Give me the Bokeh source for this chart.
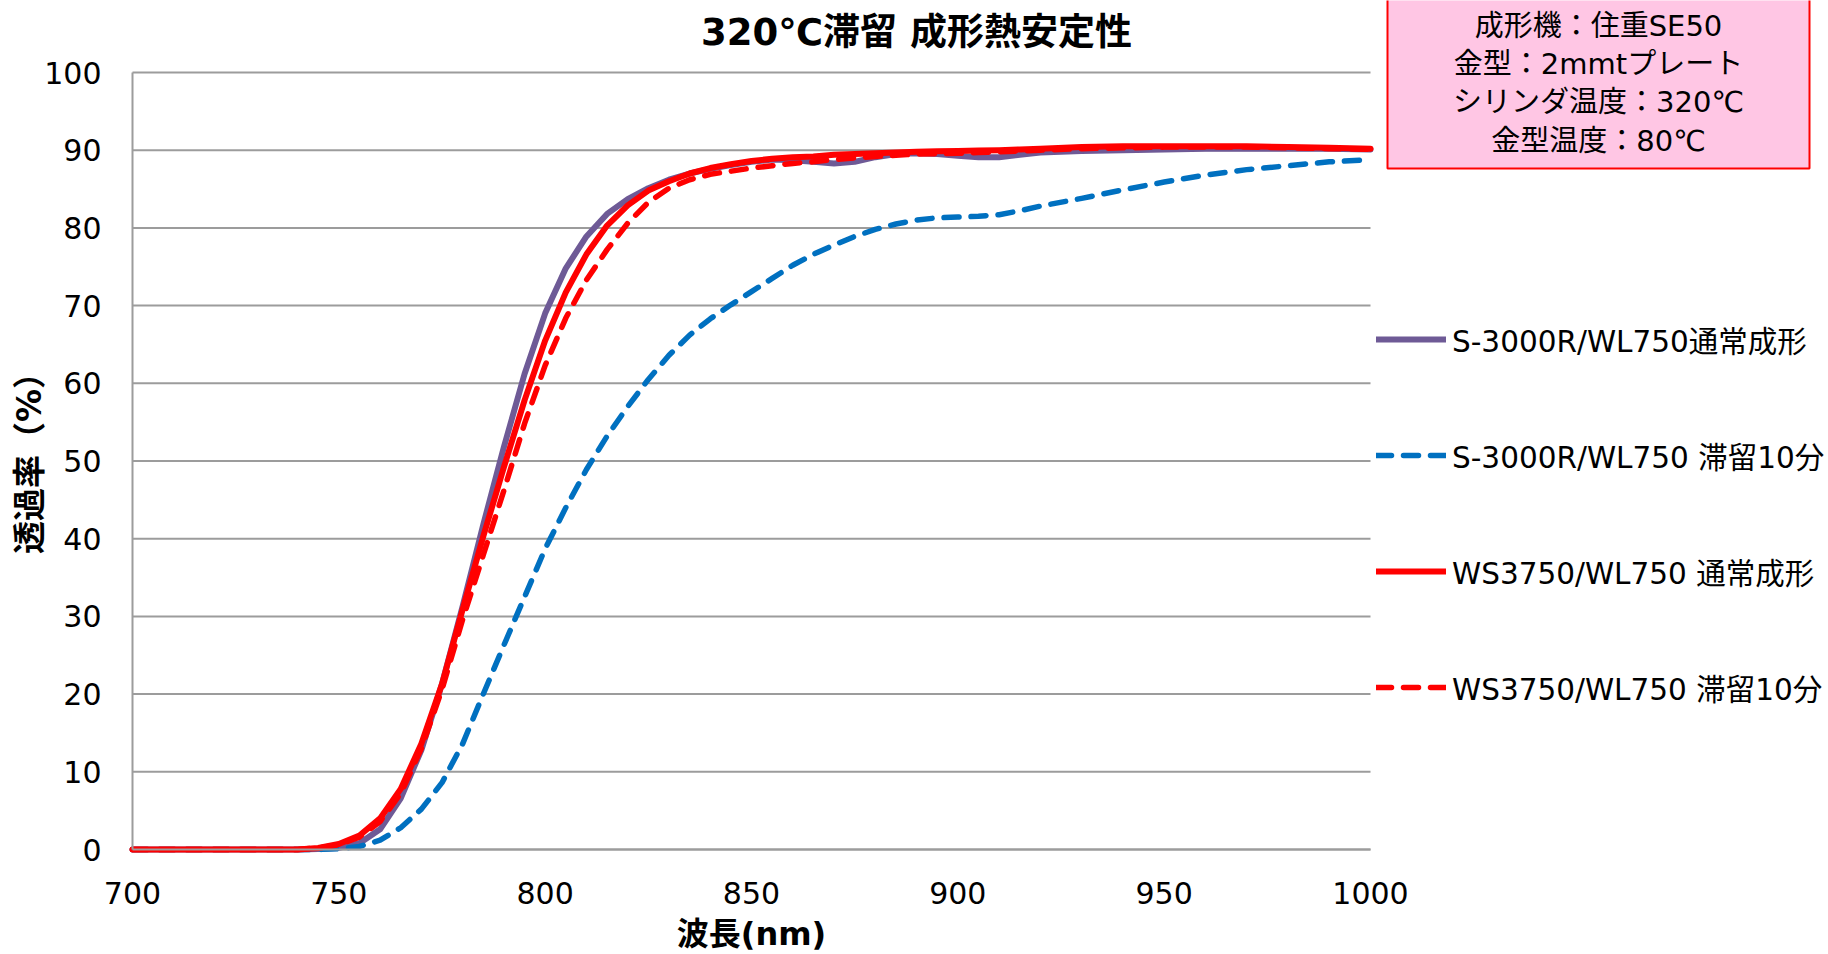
import math
from bokeh.plotting import figure
from bokeh.models import Range1d, FixedTicker, Label, Legend, LegendItem, BoxAnnotation
from bokeh.embed import file_html
from bokeh.resources import INLINE

# ---------------- data ----------------
wavelength = [700, 710, 720, 730, 740, 745, 750, 755, 760, 765, 770, 775, 780, 785, 790,
              795, 800, 805, 810, 815, 820, 825, 830, 835, 840, 845, 850, 855, 860, 865,
              870, 875, 880, 885, 890, 895, 900, 905, 910, 915, 920, 930, 940, 950, 960,
              970, 980, 990, 1000]

s3000r_normal = [0, 0, 0, 0, 0, 0.05, 0.2, 0.8, 2.6, 6.6, 12.8, 21.3, 31.3, 41.8, 51.8,
                 61.2, 69.0, 74.8, 78.9, 81.8, 83.7, 85.1, 86.2, 87.0, 87.6, 88.1, 88.5, 88.8, 88.7, 88.5,
                 88.3, 88.5, 89.1, 89.5, 89.6, 89.5, 89.3, 89.1, 89.1, 89.4, 89.7, 89.9, 90.0, 90.1, 90.2,
                 90.2, 90.2, 90.2, 90.1]

s3000r_10min = [0, 0, 0, 0, 0, 0, 0.1, 0.4, 1.2, 2.8, 5.2, 8.6, 13.6, 20, 26.3,
                32.5, 38.7, 44, 48.9, 53.2, 57, 60.5, 63.6, 66.2, 68.3, 70.1, 71.8, 73.5, 75.2, 76.6,
                77.8, 78.9, 79.8, 80.5, 81.0, 81.3, 81.4, 81.5, 81.7, 82.2, 82.8, 83.8, 84.9, 85.9, 86.8,
                87.5, 88.0, 88.5, 88.8]

ws3750_normal = [0, 0, 0, 0, 0, 0.2, 0.7, 1.8, 4.0, 7.8, 13.6, 21.3, 30.9, 40.3, 49.2,
                 57.8, 65.5, 71.7, 76.6, 80.3, 82.9, 84.8, 86.0, 87.0, 87.7, 88.2, 88.6, 88.9, 89.1, 89.2,
                 89.4, 89.5, 89.6, 89.7, 89.8, 89.85, 89.9, 89.95, 90.0, 90.1, 90.2, 90.4, 90.5, 90.5, 90.5,
                 90.5, 90.4, 90.3, 90.2]

ws3750_10min = [0, 0, 0, 0, 0, 0.2, 0.6, 1.6, 3.6, 7.2, 13.0, 20.6, 29.6, 37.9, 46.2,
                54.8, 62.3, 68.4, 73.3, 77.2, 80.6, 83.3, 85.1, 86.2, 86.9, 87.3, 87.7, 88.0, 88.3, 88.5,
                88.8, 89.0, 89.2, 89.35, 89.5, 89.55, 89.6, 89.7, 89.8, 89.9, 90.0, 90.2, 90.3, 90.4, 90.4,
                90.4, 90.3, 90.2, 90.1]

series_names = ["S-3000R/WL750通常成形", "S-3000R/WL750 滞留10分",
                "WS3750/WL750 通常成形", "WS3750/WL750 滞留10分"]

x_ticks = [700, 750, 800, 850, 900, 950, 1000]
y_ticks = [0, 10, 20, 30, 40, 50, 60, 70, 80, 90, 100]

title_text = "320℃滞留 成形熱安定性"
x_label = "波長(nm)"
y_label = "透過率（%）"
info_lines = ["成形機：住重SE50", "金型：2mmtプレート", "シリンダ温度：320℃", "金型温度：80℃"]

# ---------------- layout constants (canvas pixels, origin top-left) ----------------
W, H = 1828, 954
AXIS_X0, AXIS_X1 = 132, 1370             # screen x of x_ticks[0] / x_ticks[-1]
AXIS_Y0, AXIS_Y1 = 849, 72               # screen y of y_ticks[0] / y_ticks[-1]
px_per_x = (AXIS_X1 - AXIS_X0) / (x_ticks[-1] - x_ticks[0])
px_per_y = (AXIS_Y0 - AXIS_Y1) / (y_ticks[-1] - y_ticks[0])
# the frame fills the whole canvas; the axes are pinned at the data origin
x_start = x_ticks[0] - AXIS_X0 / px_per_x
x_end = x_ticks[0] + (W - AXIS_X0) / px_per_x
y_start = y_ticks[0] - (H - AXIS_Y0) / px_per_y
y_end = y_ticks[0] + AXIS_Y0 / px_per_y

FONT = "DejaVu Sans, Noto Sans CJK JP"
GRID = "#9C9C9C"
PURPLE = "#6E5A96"
BLUE = "#0070C0"
RED = "#FF0000"
PINK = "#FFC6E4"

styles = [dict(line_color=PURPLE, line_width=6),
          dict(line_color=BLUE, line_width=5.5, line_dash="15 12"),
          dict(line_color=RED, line_width=6),
          dict(line_color=RED, line_width=5.5, line_dash="15 12")]
series = [s3000r_normal, s3000r_10min, ws3750_normal, ws3750_10min]

p = figure(width=W, height=H, output_backend="svg", toolbar_location=None,
           x_range=Range1d(x_start, x_end), y_range=Range1d(y_start, y_end),
           min_border=0, min_border_left=0, min_border_right=0,
           min_border_top=0, min_border_bottom=0)
p.outline_line_color = None
p.background_fill_color = "white"
p.border_fill_color = "white"
p.xgrid.visible = False
p.ygrid.visible = False

p.xaxis.ticker = FixedTicker(ticks=x_ticks)
p.yaxis.ticker = FixedTicker(ticks=y_ticks)
p.xaxis.bounds = (x_ticks[0], x_ticks[-1])
p.yaxis.bounds = (y_ticks[0], y_ticks[-1])
p.xaxis.fixed_location = y_ticks[0]
p.yaxis.fixed_location = x_ticks[0]
for ax in (p.xaxis[0], p.yaxis[0]):
    ax.axis_line_color = GRID
    ax.axis_line_width = 2
    ax.major_tick_line_color = None
    ax.minor_tick_line_color = None
    ax.major_tick_out = 0
    ax.major_tick_in = 0
    ax.minor_tick_out = 0
    ax.minor_tick_in = 0
    ax.major_label_text_font = FONT
    ax.major_label_text_font_size = "30px"
    ax.major_label_text_color = "black"
p.xaxis.major_label_standoff = 32
p.yaxis.major_label_standoff = 31

# horizontal gridlines over the plotted span
p.segment(x0=[x_ticks[0]] * len(y_ticks), y0=y_ticks,
          x1=[x_ticks[-1]] * len(y_ticks), y1=y_ticks,
          line_color=GRID, line_width=2)

renderers = []
for vals, st in zip(series, styles):
    renderers.append(p.line(wavelength, vals, line_cap="round", line_join="round", **st))

legend = Legend(items=[LegendItem(label=n, renderers=[r]) for n, r in
                       zip(series_names, renderers)],
                location=(1376, H - 708), orientation="vertical",
                glyph_width=70, glyph_height=30, label_height=30, spacing=74,
                padding=0, margin=0, label_standoff=6,
                border_line_color=None, background_fill_alpha=0,
                label_text_font=FONT, label_text_font_size="29.5px",
                label_text_color="black")
p.add_layout(legend)

def text_label(text, sx, sy, size, bold=False, angle=0.0):
    # sx, sy: canvas pixels from the top-left corner
    return Label(x=sx, y=H - sy, x_units="screen", y_units="screen", text=text,
                 angle=angle, text_align="center", text_baseline="middle",
                 text_font=FONT, text_font_size=size,
                 text_font_style="bold" if bold else "normal", text_color="black")

p.add_layout(text_label(title_text, 916, 32, "37px", bold=True))
p.add_layout(text_label(x_label, (AXIS_X0 + AXIS_X1) / 2, 933, "32px", bold=True))
p.add_layout(text_label(y_label, 29, (AXIS_Y0 + AXIS_Y1) / 2 - 6, "33px", bold=True,
                        angle=math.pi / 2))

box = BoxAnnotation(left=1387, right=1809, top=H + 2, bottom=H - 168,
                    left_units="screen", right_units="screen",
                    top_units="screen", bottom_units="screen",
                    fill_color=PINK, fill_alpha=1.0,
                    line_color=RED, line_alpha=1.0, line_width=2)
p.add_layout(box)

for i, line_text in enumerate(info_lines):
    p.add_layout(text_label(line_text, 1598, 25 + i * 38.4, "29px"))

open("out.html", "w").write(file_html(p, INLINE))
